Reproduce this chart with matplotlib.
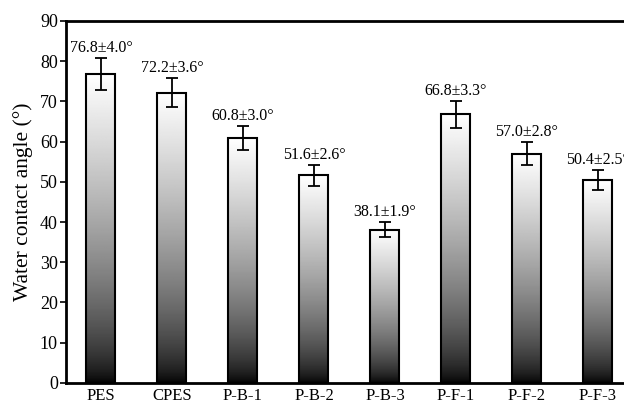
import numpy as np
import matplotlib
matplotlib.use("Agg")
import matplotlib.pyplot as plt

# data
samples = ["PES", "CPES", "P-B-1", "P-B-2", "P-B-3", "P-F-1", "P-F-2", "P-F-3"]
angles = [76.8, 72.2, 60.8, 51.6, 38.1, 66.8, 57.0, 50.4]
errors = [4.0, 3.6, 3.0, 2.6, 1.9, 3.3, 2.8, 2.5]

plt.rcParams["font.family"] = ["Liberation Serif", "DejaVu Serif"]

fig = plt.figure(figsize=(6.24, 4.03), dpi=100)
ax = fig.add_axes([0.106, 0.05, 0.909, 0.898])

x = np.arange(len(samples))
width = 0.41
bars = ax.bar(x, angles, width=width, facecolor="none", edgecolor="black",
              linewidth=1.5, zorder=3)

# vertical black-to-white gradient inside each bar
grad = (np.linspace(0, 1, 256) ** 0.65).reshape(-1, 1)
for b in bars:
    x0, y0 = b.get_x(), b.get_y()
    w, h = b.get_width(), b.get_height()
    im = ax.imshow(grad, cmap="gray", origin="lower", aspect="auto",
                   extent=[x0, x0 + w, y0, y0 + h], zorder=2, vmin=0, vmax=1)
    im.set_clip_path(b)

ax.errorbar(x, angles, yerr=errors, fmt="none", ecolor="black",
            elinewidth=1.3, capsize=4, capthick=1.3, zorder=4)

for xi, v, e in zip(x, angles, errors):
    ax.annotate(f"{v:.1f}\u00b1{e:.1f}\u00b0", (xi, v + e),
                xytext=(0, 1.5), textcoords="offset points",
                ha="center", va="bottom", fontsize=11.5, annotation_clip=False)

ax.set_xlim(-0.49, 7.5)
ax.set_ylim(0, 90)
ax.set_yticks(range(0, 91, 10))
ax.set_xticks(x)
ax.set_xticklabels(samples)
ax.tick_params(axis="y", direction="out", length=4, width=1.2, labelsize=13, pad=2)
ax.tick_params(axis="x", length=0, labelsize=12, pad=4)
ax.set_ylabel("Water contact angle (\u00b0)", fontsize=15.5, labelpad=5)
for s in ax.spines.values():
    s.set_linewidth(2)

fig.savefig("out.png", dpi=100)
